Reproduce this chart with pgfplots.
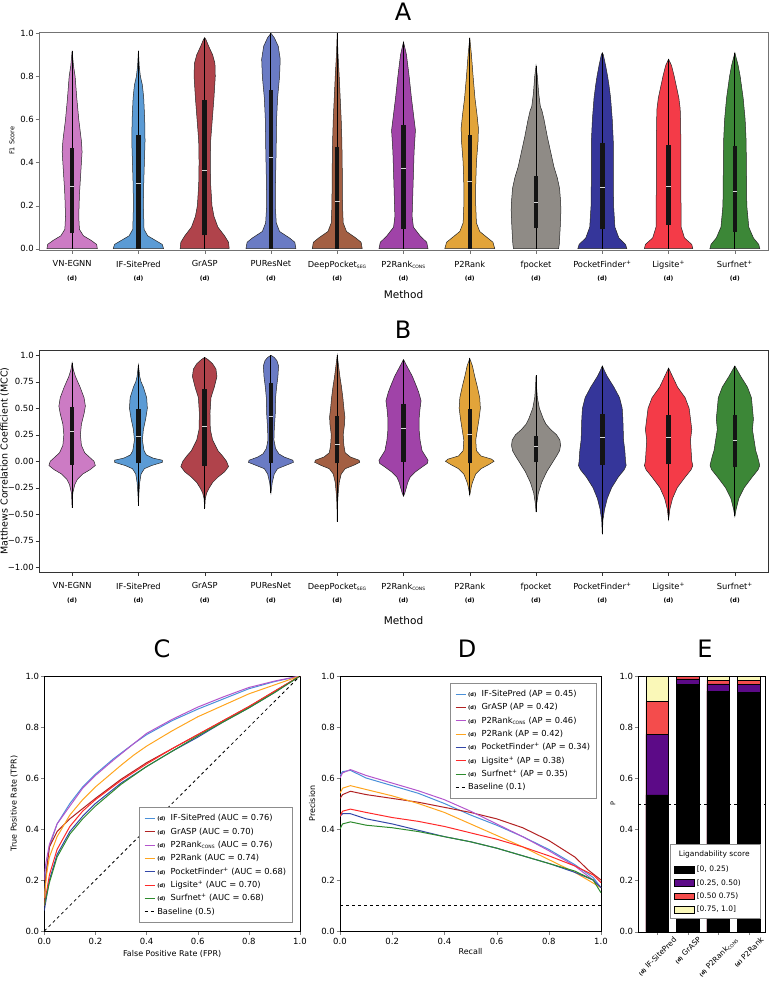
\documentclass[border=0pt]{standalone}
\usepackage{fontspec}
\setmainfont{DejaVu Sans}
\usepackage{graphicx}
\usepackage{pgfplots}
\pgfplotsset{compat=1.18}

\definecolor{vVN}{HTML}{CC7BC4}
\definecolor{vIF}{HTML}{5B9BD5}
\definecolor{vGr}{HTML}{B0434B}
\definecolor{vPU}{HTML}{6A7BC4}
\definecolor{vDP}{HTML}{A35F43}
\definecolor{vPC}{HTML}{A043A8}
\definecolor{vPR}{HTML}{E2A43A}
\definecolor{vFP}{HTML}{8F8B86}
\definecolor{vPF}{HTML}{35369A}
\definecolor{vLS}{HTML}{F43B48}
\definecolor{vSN}{HTML}{3C8737}
\definecolor{lIF}{HTML}{4A90D9}
\definecolor{lGr}{HTML}{B22222}
\definecolor{lPC}{HTML}{B455CC}
\definecolor{lPR}{HTML}{FFA51F}
\definecolor{lPF}{HTML}{3347A8}
\definecolor{lLS}{HTML}{FF2A2A}
\definecolor{lSN}{HTML}{2E8B2E}
\definecolor{eP}{HTML}{5C0A87}
\definecolor{eR}{HTML}{F44C4C}
\definecolor{eY}{HTML}{FAF8B8}

\newcommand\dd{{\fontsize{6}{13.5}\selectfont\bfseries(d)}}
\newcommand\dl{{\fontsize{5}{5}\selectfont\bfseries(d)}}
\newcommand\sub[1]{\textsubscript{\fontsize{4.5}{5}\selectfont #1}}
\newcommand\ebox[1]{\makebox[58pt][l]{#1}}

% violin outline from a list of y/halfwidth pairs (ascending y)
\newcommand\violin[3]{%
  \gdef\vR{}\gdef\vL{}%
  \foreach \yy/\ww in {#3}{%
    \pgfmathsetmacro\xr{#1+\ww}%
    \pgfmathsetmacro\xl{#1-\ww}%
    \xdef\vR{\vR (\xr,\yy)}%
    \xdef\vL{(\xl,\yy) \vL}%
  }%
  \edef\tmp{\noexpand\addplot[draw=black!85, line width=0.5pt, fill=#2, forget plot] coordinates {\vR\space\vL} -- cycle;}%
  \tmp
}
% inner box: center, min, q1, median, q3, max
\newcommand\vstats[6]{%
  \pgfmathsetmacro\ml{#1-0.035}\pgfmathsetmacro\mr{#1+0.035}%
  \edef\tmp{%
    \noexpand\addplot[black, line width=1pt, forget plot] coordinates {(#1,#2) (#1,#6)};%
    \noexpand\addplot[black!92, line width=4.5pt, forget plot] coordinates {(#1,#3) (#1,#5)};%
    \noexpand\addplot[white!85!black, line width=0.7pt, forget plot] coordinates {(\ml,#4) (\mr,#4)};%
  }\tmp}

\pgfplotsset{
  base/.style={scale only axis, tick align=outside, tick pos=left, major tick length=3.5pt,
    /pgf/number format/assume math mode=true,
    tick label style={font=\fontsize{8.5}{10}\selectfont},
    yticklabel style={inner sep=1.5pt}},
  violinaxis/.style={base, width=729pt, xmin=-0.5, xmax=10.5, xtick={0,...,10},
    xticklabels={{VN-EGNN\\\dd},{IF-SitePred\\\dd},{GrASP\\\dd},{PUResNet\\\dd},
      {DeepPocket\sub{SEG}\\\dd},{P2Rank\sub{CONS}\\\dd},{P2Rank\\\dd},{fpocket\\\dd},
      {PocketFinder\textsuperscript{+}\\\dd},{Ligsite\textsuperscript{+}\\\dd},{Surfnet\textsuperscript{+}\\\dd}},
    xticklabel style={align=center, font=\fontsize{8.3}{13.5}\selectfont, inner sep=1pt, yshift=-6pt},
    xlabel={Method},
    xlabel style={font=\fontsize{10.5}{12}\selectfont, at={(axis description cs:0.5,0)}, anchor=center}},
  curveaxis/.style={base, xmin=0, xmax=1, ymin=0, ymax=1,
    xtick={0,0.2,0.4,0.6,0.8,1}, ytick={0,0.2,0.4,0.6,0.8,1},
    xticklabels={0.0,0.2,0.4,0.6,0.8,1.0}, yticklabels={0.0,0.2,0.4,0.6,0.8,1.0},
    label style={font=\fontsize{8}{10}\selectfont},
    legend cell align=left,
    legend image code/.code={\draw[##1, line width=1.1pt] (0pt,0pt) -- (10pt,0pt);},
    legend style={font=\fontsize{8.3}{10}\selectfont, draw=black!45, line width=0.8pt,
      inner sep=4.5pt, row sep=0.3pt, nodes={inner ysep=2.2pt, text height=6.6pt, text depth=2pt}}},
  epatch/.style={legend image code/.code={\draw[fill=#1, draw=black, line width=0.5pt] (0pt,-3.4pt) rectangle (20pt,3.4pt);}},
}

\begin{document}
\begin{tikzpicture}
\useasboundingbox (0,0) rectangle (770pt,-986pt);

\node[font=\fontsize{24}{24}\selectfont] at (403pt,-12pt) {A};
\node[font=\fontsize{24}{24}\selectfont] at (403pt,-330pt) {B};
\node[font=\fontsize{24}{24}\selectfont] at (162pt,-649pt) {C};
\node[font=\fontsize{24}{24}\selectfont] at (467pt,-649pt) {D};
\node[font=\fontsize{24}{24}\selectfont] at (705pt,-649pt) {E};

% ---------------- A ----------------
\begin{axis}[violinaxis, at={(39pt,-31.7pt)}, anchor=north west, height=218.3pt,
  ymin=-0.006, ymax=1.0074, ytick={0,0.2,0.4,0.6,0.8,1}, yticklabels={0.0,0.2,0.4,0.6,0.8,1.0},
  axis line style={black!55}, tick style={black!55},
  xlabel style={yshift=-44.3pt},
  ylabel={F1 Score}, ylabel style={font=\fontsize{6.5}{8}\selectfont, at={(axis description cs:-0.037,0.5)}, anchor=center}]
\violin{0}{vVN}{0/0.38,0.02/0.37,0.04/0.28,0.06/0.17,0.09/0.11,0.15/0.10,0.25/0.11,0.35/0.13,0.45/0.15,0.5/0.14,0.6/0.10,0.7/0.07,0.8/0.045,0.85/0.02,0.92/0}
\vstats{0}{0}{0.071}{0.291}{0.469}{0.92}
\violin{1}{vIF}{0/0.38,0.02/0.36,0.04/0.25,0.06/0.14,0.09/0.085,0.2/0.075,0.3/0.08,0.4/0.09,0.5/0.10,0.6/0.095,0.7/0.08,0.76/0.06,0.8/0.03,0.85/0.012,0.92/0}
\vstats{1}{0}{0}{0.303}{0.528}{0.92}
\violin{2}{vGr}{0/0.37,0.03/0.36,0.06/0.3,0.1/0.2,0.15/0.14,0.2/0.11,0.3/0.09,0.4/0.085,0.5/0.09,0.6/0.115,0.7/0.14,0.8/0.16,0.86/0.155,0.9/0.12,0.94/0.06,0.97/0.02,0.98/0}
\vstats{2}{0}{0.062}{0.362}{0.692}{0.98}
\violin{3}{vPU}{0/0.377,0.03/0.36,0.05/0.28,0.08/0.13,0.12/0.08,0.2/0.065,0.3/0.068,0.45/0.078,0.6/0.085,0.7/0.10,0.8/0.13,0.88/0.14,0.94/0.11,0.98/0.05,1.0/0}
\vstats{3}{0}{0}{0.423}{0.738}{1.0}
\violin{4}{vDP}{0/0.377,0.03/0.36,0.05/0.28,0.08/0.14,0.12/0.09,0.2/0.08,0.3/0.078,0.4/0.075,0.5/0.07,0.6/0.06,0.7/0.045,0.8/0.03,0.9/0.012,1.0/0}
\vstats{4}{0}{0}{0.221}{0.474}{1.0}
\violin{5}{vPC}{0/0.37,0.03/0.35,0.06/0.25,0.1/0.15,0.15/0.13,0.25/0.14,0.35/0.15,0.45/0.16,0.55/0.18,0.6/0.16,0.7/0.12,0.8/0.085,0.9/0.045,0.96/0}
\vstats{5}{0}{0.091}{0.373}{0.574}{0.96}
\violin{6}{vPR}{0/0.377,0.03/0.35,0.05/0.27,0.08/0.15,0.12/0.1,0.2/0.09,0.3/0.09,0.4/0.1,0.5/0.125,0.56/0.13,0.62/0.11,0.7/0.078,0.8/0.05,0.9/0.025,0.98/0}
\vstats{6}{0}{0}{0.314}{0.528}{0.98}
\violin{7}{vFP}{0/0.34,0.02/0.35,0.1/0.365,0.18/0.375,0.22/0.37,0.28/0.355,0.33/0.32,0.38/0.27,0.45/0.22,0.52/0.17,0.6/0.12,0.64/0.09,0.66/0.065,0.72/0.04,0.8/0.02,0.85/0}
\vstats{7}{0}{0.096}{0.217}{0.339}{0.85}
\violin{8}{vPF}{0/0.37,0.02/0.35,0.05/0.25,0.1/0.19,0.2/0.17,0.35/0.165,0.5/0.165,0.6/0.15,0.7/0.125,0.76/0.1,0.8/0.08,0.85/0.05,0.9/0.015,0.91/0}
\vstats{8}{0}{0.091}{0.285}{0.489}{0.91}
\violin{9}{vLS}{0/0.365,0.02/0.35,0.05/0.24,0.1/0.19,0.3/0.185,0.5/0.185,0.6/0.18,0.65/0.175,0.7/0.155,0.75/0.12,0.8/0.085,0.85/0.045,0.88/0}
\vstats{9}{0}{0.11}{0.291}{0.48}{0.88}
\violin{10}{vSN}{0/0.377,0.02/0.36,0.05/0.28,0.1/0.21,0.2/0.18,0.35/0.175,0.5/0.17,0.6/0.155,0.7/0.125,0.8/0.08,0.85/0.05,0.91/0}
\vstats{10}{0}{0.079}{0.268}{0.477}{0.91}
\end{axis}

% ---------------- B ----------------
\begin{axis}[violinaxis, at={(39pt,-350pt)}, anchor=north west, height=222pt,
  ymin=-1.045, ymax=1.05, ytick={-1,-0.75,-0.5,-0.25,0,0.25,0.5,0.75,1},
  yticklabels={−1.00,−0.75,−0.50,−0.25,0.00,0.25,0.50,0.75,1.0},
  axis line style={black!80}, tick style={black!80},
  xlabel style={yshift=-48.7pt},
  ylabel={Matthews Correlation Coefficient (MCC)},
  ylabel style={font=\fontsize{9.5}{11}\selectfont, at={(axis description cs:-0.047,0.5)}, anchor=center}]
\violin{0}{vVN}{-0.44/0,-0.3/0.01,-0.22/0.04,-0.17/0.08,-0.12/0.16,-0.08/0.27,-0.04/0.35,0.0/0.33,0.04/0.26,0.08/0.19,0.15/0.14,0.25/0.125,0.35/0.14,0.45/0.18,0.52/0.2,0.6/0.18,0.7/0.12,0.8/0.05,0.86/0.02,0.93/0}
\vstats{0}{-0.44}{-0.031}{0.28}{0.509}{0.93}
\violin{1}{vIF}{-0.42/0,-0.3/0.008,-0.2/0.02,-0.12/0.04,-0.07/0.09,-0.04/0.2,-0.01/0.36,0.01/0.36,0.03/0.22,0.06/0.12,0.1/0.085,0.2/0.06,0.3/0.075,0.4/0.11,0.5/0.135,0.6/0.125,0.7/0.075,0.75/0.04,0.8/0.02,0.91/0}
\vstats{1}{-0.42}{-0.02}{0.233}{0.49}{0.91}
\violin{2}{vGr}{-0.45/0,-0.35/0.01,-0.3/0.03,-0.25/0.07,-0.2/0.12,-0.15/0.2,-0.1/0.3,-0.05/0.36,0.0/0.33,0.05/0.27,0.1/0.2,0.2/0.12,0.3/0.085,0.45/0.08,0.6/0.095,0.7/0.145,0.8/0.185,0.87/0.17,0.92/0.12,0.96/0.05,0.98/0}
\vstats{2}{-0.45}{-0.04}{0.327}{0.682}{0.98}
\violin{3}{vPU}{-0.3/0,-0.2/0.02,-0.12/0.05,-0.07/0.1,-0.04/0.22,-0.01/0.34,0.01/0.33,0.04/0.2,0.07/0.12,0.12/0.07,0.2/0.045,0.3/0.05,0.45/0.065,0.6/0.07,0.7/0.085,0.8/0.105,0.9/0.115,0.95/0.09,0.98/0.05,1.0/0}
\vstats{3}{-0.3}{-0.02}{0.421}{0.739}{1.0}
\violin{4}{vDP}{-0.57/0,-0.4/0.005,-0.3/0.015,-0.2/0.03,-0.12/0.06,-0.07/0.12,-0.04/0.24,-0.01/0.34,0.01/0.33,0.04/0.2,0.08/0.12,0.15/0.1,0.25/0.09,0.35/0.11,0.42/0.115,0.5/0.1,0.6/0.085,0.7/0.065,0.8/0.04,0.9/0.02,1.0/0}
\vstats{4}{-0.57}{-0.02}{0.16}{0.428}{1.0}
\violin{5}{vPC}{-0.33/0,-0.3/0.02,-0.2/0.065,-0.15/0.1,-0.1/0.18,-0.05/0.29,-0.02/0.36,0.01/0.37,0.05/0.33,0.1/0.28,0.2/0.25,0.3/0.235,0.4/0.235,0.5/0.25,0.57/0.265,0.65/0.23,0.7/0.2,0.8/0.135,0.9/0.05,0.96/0}
\vstats{5}{-0.33}{-0.003}{0.311}{0.54}{0.96}
\violin{6}{vPR}{-0.32/0,-0.25/0.02,-0.2/0.04,-0.12/0.09,-0.07/0.17,-0.03/0.29,0.0/0.367,0.02/0.33,0.05/0.17,0.1/0.1,0.2/0.09,0.3/0.115,0.4/0.14,0.5/0.16,0.6/0.15,0.7/0.115,0.8/0.075,0.9/0.04,0.97/0}
\vstats{6}{-0.32}{-0.019}{0.255}{0.494}{0.97}
\violin{7}{vFP}{-0.48/0,-0.4/0.01,-0.3/0.035,-0.2/0.085,-0.1/0.16,0.0/0.26,0.05/0.31,0.1/0.355,0.15/0.37,0.2/0.36,0.25/0.31,0.3/0.22,0.35/0.15,0.4/0.11,0.5/0.05,0.6/0.02,0.7/0.008,0.81/0}
\vstats{7}{-0.48}{-0.009}{0.138}{0.242}{0.81}
\violin{8}{vPF}{-0.69/0,-0.55/0.01,-0.45/0.035,-0.35/0.075,-0.25/0.14,-0.15/0.24,-0.08/0.33,-0.04/0.36,0.0/0.35,0.1/0.34,0.2/0.32,0.3/0.315,0.4/0.31,0.5/0.3,0.6/0.26,0.7/0.175,0.8/0.075,0.85/0.035,0.9/0}
\vstats{8}{-0.69}{-0.031}{0.226}{0.447}{0.9}
\violin{9}{vLS}{-0.55/0,-0.45/0.02,-0.35/0.06,-0.25/0.13,-0.15/0.25,-0.08/0.34,-0.04/0.365,0.0/0.35,0.1/0.34,0.2/0.33,0.3/0.35,0.4/0.33,0.5/0.31,0.6/0.25,0.7/0.135,0.8/0.06,0.88/0}
\vstats{9}{-0.55}{-0.03}{0.226}{0.44}{0.88}
\violin{10}{vSN}{-0.52/0,-0.45/0.02,-0.35/0.06,-0.25/0.14,-0.15/0.26,-0.08/0.35,-0.04/0.375,0.0/0.36,0.05/0.34,0.1/0.315,0.2/0.29,0.3/0.265,0.4/0.28,0.5/0.265,0.6/0.25,0.7/0.19,0.8/0.09,0.9/0}
\vstats{10}{-0.52}{-0.057}{0.195}{0.434}{0.9}
\end{axis}

% ---------------- C ----------------
\begin{axis}[curveaxis, at={(44.3pt,-676pt)}, anchor=north west, width=255.7pt, height=255pt,
  xlabel={False Positive Rate (FPR)}, ylabel={True Positive Rate (TPR)},
  xlabel style={at={(axis description cs:0.5,-0.09)}, anchor=center},
  ylabel style={at={(axis description cs:-0.1185,0.5)}, anchor=center},
  legend style={at={(0.973,0.031)}, anchor=south east}]
\addplot[lIF, line width=1pt] coordinates {(0,0.1)(0.005,0.22)(0.02,0.33)(0.05,0.42)(0.1,0.5)(0.15,0.565)(0.2,0.615)(0.27,0.675)(0.35,0.735)(0.4,0.77)(0.5,0.825)(0.6,0.87)(0.7,0.91)(0.8,0.95)(0.9,0.978)(1,1)};
\addlegendentry{\dl\ \ IF-SitePred (AUC = 0.76)}
\addplot[lGr, line width=1pt] coordinates {(0,0.1)(0.005,0.2)(0.02,0.33)(0.05,0.39)(0.1,0.44)(0.15,0.48)(0.2,0.52)(0.3,0.595)(0.4,0.66)(0.5,0.715)(0.6,0.77)(0.7,0.825)(0.8,0.88)(0.9,0.94)(1,1)};
\addlegendentry{\dl\ \ GrASP (AUC = 0.70)}
\addplot[lPC, line width=1pt] coordinates {(0,0.2)(0.005,0.26)(0.02,0.34)(0.05,0.42)(0.1,0.49)(0.15,0.56)(0.2,0.61)(0.27,0.67)(0.35,0.735)(0.4,0.775)(0.5,0.83)(0.6,0.878)(0.7,0.918)(0.8,0.955)(0.9,0.98)(1,1)};
\addlegendentry{\dl\ \ P2Rank\sub{CONS} (AUC = 0.76)}
\addplot[lPR, line width=1pt] coordinates {(0,0.13)(0.01,0.23)(0.02,0.29)(0.05,0.37)(0.1,0.455)(0.15,0.515)(0.2,0.565)(0.3,0.65)(0.35,0.69)(0.4,0.725)(0.5,0.785)(0.6,0.84)(0.7,0.885)(0.8,0.93)(0.9,0.965)(1,1)};
\addlegendentry{\dl\ \ P2Rank (AUC = 0.74)}
\addplot[lPF, line width=1pt] coordinates {(0,0.08)(0.02,0.2)(0.05,0.3)(0.1,0.39)(0.15,0.45)(0.2,0.5)(0.3,0.58)(0.4,0.645)(0.5,0.705)(0.6,0.76)(0.7,0.82)(0.8,0.875)(0.9,0.935)(1,1)};
\addlegendentry{\dl\ \ PocketFinder\textsuperscript{+} (AUC = 0.68)}
\addplot[lLS, line width=1pt] coordinates {(0,0.1)(0.02,0.22)(0.05,0.32)(0.1,0.41)(0.15,0.47)(0.2,0.515)(0.3,0.59)(0.4,0.655)(0.5,0.715)(0.6,0.77)(0.7,0.825)(0.8,0.88)(0.9,0.94)(1,1)};
\addlegendentry{\dl\ \ Ligsite\textsuperscript{+} (AUC = 0.70)}
\addplot[lSN, line width=1pt] coordinates {(0,0.1)(0.02,0.19)(0.05,0.29)(0.1,0.38)(0.15,0.44)(0.2,0.49)(0.3,0.575)(0.4,0.645)(0.5,0.705)(0.6,0.765)(0.7,0.82)(0.8,0.875)(0.9,0.935)(1,1)};
\addlegendentry{\dl\ \ Surfnet\textsuperscript{+} (AUC = 0.68)}
\addplot[black, dashed, line width=0.8pt] coordinates {(0,0)(1,1)};
\addlegendentry{Baseline (0.5)}
\end{axis}

% ---------------- D ----------------
\begin{axis}[curveaxis, at={(340pt,-676pt)}, anchor=north west, width=261pt, height=255pt,
  xlabel={Recall}, ylabel={Precision},
  xlabel style={at={(axis description cs:0.5,-0.082)}, anchor=center},
  ylabel style={at={(axis description cs:-0.107,0.5)}, anchor=center},
  legend style={at={(0.985,0.973)}, anchor=north east}]
\addplot[lIF, line width=1pt] coordinates {(0,0.61)(0.01,0.625)(0.04,0.63)(0.1,0.6)(0.2,0.57)(0.3,0.54)(0.4,0.5)(0.5,0.455)(0.6,0.415)(0.7,0.37)(0.8,0.32)(0.9,0.26)(0.97,0.21)(1,0.17)};
\addlegendentry{\dl\ \ IF-SitePred (AP = 0.45)}
\addplot[lGr, line width=1pt] coordinates {(0,0.52)(0.01,0.535)(0.04,0.548)(0.1,0.535)(0.2,0.52)(0.3,0.505)(0.4,0.485)(0.5,0.465)(0.6,0.44)(0.7,0.405)(0.8,0.355)(0.9,0.29)(0.95,0.24)(1,0.2)};
\addlegendentry{\dl\ \ GrASP (AP = 0.42)}
\addplot[lPC, line width=1pt] coordinates {(0,0.6)(0.01,0.62)(0.04,0.633)(0.1,0.61)(0.2,0.58)(0.3,0.55)(0.4,0.515)(0.5,0.47)(0.6,0.42)(0.7,0.37)(0.8,0.315)(0.9,0.255)(0.97,0.2)(1,0.17)};
\addlegendentry{\dl\ \ P2Rank\sub{CONS} (AP = 0.46)}
\addplot[lPR, line width=1pt] coordinates {(0,0.54)(0.01,0.56)(0.04,0.57)(0.1,0.555)(0.2,0.53)(0.3,0.5)(0.4,0.465)(0.5,0.42)(0.6,0.375)(0.7,0.33)(0.8,0.28)(0.9,0.23)(1,0.17)};
\addlegendentry{\dl\ \ P2Rank (AP = 0.42)}
\addplot[lPF, line width=1pt] coordinates {(0,0.45)(0.01,0.46)(0.04,0.46)(0.1,0.44)(0.2,0.42)(0.3,0.395)(0.4,0.37)(0.5,0.35)(0.6,0.325)(0.7,0.295)(0.8,0.265)(0.9,0.23)(0.97,0.2)(1,0.17)};
\addlegendentry{\dl\ \ PocketFinder\textsuperscript{+} (AP = 0.34)}
\addplot[lLS, line width=1pt] coordinates {(0,0.45)(0.01,0.47)(0.04,0.478)(0.1,0.465)(0.2,0.445)(0.3,0.43)(0.4,0.41)(0.5,0.385)(0.6,0.36)(0.7,0.33)(0.8,0.295)(0.9,0.255)(0.97,0.22)(1,0.19)};
\addlegendentry{\dl\ \ Ligsite\textsuperscript{+} (AP = 0.38)}
\addplot[lSN, line width=1pt] coordinates {(0,0.4)(0.01,0.42)(0.04,0.428)(0.1,0.415)(0.2,0.405)(0.3,0.39)(0.4,0.37)(0.5,0.35)(0.6,0.325)(0.7,0.295)(0.8,0.265)(0.9,0.235)(0.97,0.2)(1,0.15)};
\addlegendentry{\dl\ \ Surfnet\textsuperscript{+} (AP = 0.35)}
\addplot[black, dashed, line width=0.8pt] coordinates {(0,0.1)(1,0.1)};
\addlegendentry{Baseline (0.1)}
\end{axis}

% ---------------- E ----------------
\begin{axis}[base, at={(638.3pt,-676pt)}, anchor=north west, width=126.7pt, height=255.7pt,
  xmin=-0.62, xmax=3.53, ymin=0, ymax=1,
  ytick={0,0.2,0.4,0.6,0.8,1}, yticklabels={0.0,0.2,0.4,0.6,0.8,1.0},
  xtick={0,1,2,3},
  xticklabels={\rotatebox{45}{\dl\ IF-SitePred},\rotatebox{45}{\dl\ GrASP},\rotatebox{45}{\dl\ P2Rank\sub{CONS}},\rotatebox{45}{\dl\ P2Rank}},
  xticklabel style={anchor=north, font=\fontsize{7.5}{8}\selectfont, inner sep=1pt},
  ylabel={P}, ylabel style={font=\fontsize{6.5}{8}\selectfont, at={(axis description cs:-0.2,0.5)}, anchor=center},
  legend cell align=left,
  legend style={at={(0.966,0.05)}, anchor=south east, font=\fontsize{7.5}{9}\selectfont,
    draw=black!45, line width=0.8pt, inner sep=3.5pt, row sep=2pt}]
\addplot[ybar, bar width=0.74, bar shift=0pt, fill=eY, draw=black, line width=0.6pt, forget plot]
  coordinates {(0,1.0)(1,1.0)(2,1.0)(3,1.0)};
\addplot[ybar, bar width=0.74, bar shift=0pt, fill=eR, draw=black, line width=0.6pt, forget plot]
  coordinates {(0,0.90)(1,0.997)(2,0.984)(3,0.983)};
\addplot[ybar, bar width=0.74, bar shift=0pt, fill=eP, draw=black, line width=0.6pt, forget plot]
  coordinates {(0,0.772)(1,0.989)(2,0.969)(3,0.967)};
\addplot[ybar, bar width=0.74, bar shift=0pt, fill=black, draw=black, line width=0.6pt, forget plot]
  coordinates {(0,0.535)(1,0.967)(2,0.941)(3,0.935)};
\addplot[black, dashed, line width=0.6pt, forget plot] coordinates {(-0.62,0.5)(3.53,0.5)};
\addlegendimage{legend image code/.code={\node[overlay, anchor=west, inner sep=0pt, font=\fontsize{7.5}{9}\selectfont] at (4pt,1pt) {Ligandability score};}}
\addlegendentry{\rule{0pt}{9pt}}
\addlegendimage{epatch=black}
\addlegendentry{\ebox{[0, 0.25)}}
\addlegendimage{epatch=eP}
\addlegendentry{\ebox{[0.25, 0.50)}}
\addlegendimage{epatch=eR}
\addlegendentry{\ebox{[0.50 0.75)}}
\addlegendimage{epatch=eY}
\addlegendentry{\ebox{[0.75, 1.0]}}
\end{axis}
\end{tikzpicture}
\end{document}
